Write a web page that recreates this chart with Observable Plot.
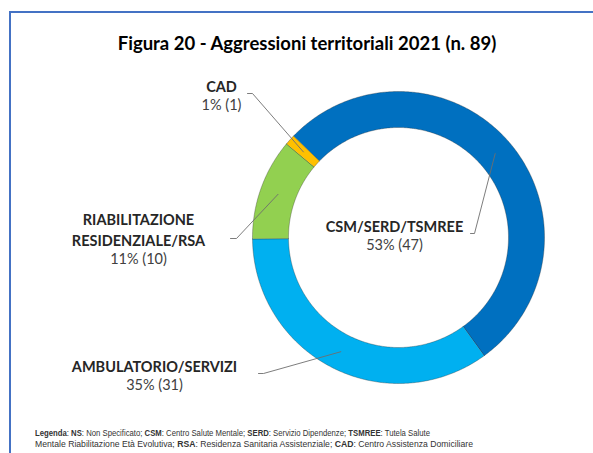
<!DOCTYPE html>
<html><head><meta charset="utf-8">
<script src="https://cdn.jsdelivr.net/npm/d3@7"></script>
<script src="https://cdn.jsdelivr.net/npm/@observablehq/plot@0.6"></script>
<style>
body{margin:0;background:#fff;width:593px;height:453px;overflow:hidden;position:relative;font-family:Lato,"Open Sans",sans-serif}
#frame{position:absolute;left:9px;top:11px;width:600px;height:460px;border-top:2px solid #4472C4;border-left:2px solid #4472C4}
#title{position:absolute;top:32px;left:0;width:614px;text-align:center;font-weight:bold;font-size:18.5px;color:#000}
#chart{position:absolute;top:60px;left:0}
#legend{position:absolute;left:35px;top:428px;font-family:"Liberation Sans",Arial,sans-serif;font-size:8.6px;color:#333;line-height:11px}
#legend div{white-space:nowrap;transform-origin:0 50%;width:max-content}
</style></head>
<body>
<div id="frame"></div>
<div id="title">Figura 20 - Aggressioni territoriali 2021 (n. 89)</div>
<div id="chart"></div>
<div id="legend">
<div id="l1"><b>Legenda</b>: <b>NS</b>: Non Specificato; <b>CSM</b>: Centro Salute Mentale; <b>SERD</b>: Servizio Dipendenze; <b>TSMREE</b>: Tutela Salute</div>
<div id="l2">Mentale Riabilitazione Età Evolutiva; <b>RSA</b>: Residenza Sanitaria Assistenziale; <b>CAD</b>: Centro Assistenza Domiciliare</div>
</div>
<script>
// ---- data ----
const categories = ["CSM/SERD/TSMREE", "AMBULATORIO/SERVIZI", "RIABILITAZIONE RESIDENZIALE/RSA", "CAD"];
const nameLines = ["CSM/SERD/TSMREE", "AMBULATORIO/SERVIZI", "RIABILITAZIONE\nRESIDENZIALE/RSA", "CAD"];
const counts = [47, 31, 10, 1];
const percents = ["53%", "35%", "11%", "1%"];
const colors = ["#0070C0", "#00B0F0", "#92D050", "#FFC000"];

// ---- layout (chart units, origin at donut centre, y up) ----
const outerR = 146, innerR = 110, leaderR = 128;
const startDeg = -46;
const labelPos = [[-4, 12], [-244, -128], [-260, 19], [-177, 152]]; // centre of first name line
const leaderStart = [[72, 4, 4], [-140, -136, 5], [-168, -1, 6], [-151, 144, 5]];
const nameGap = 21, valueGap = 19.5, fs = 14.5;

const pie = d3.pie().sort(null)
  .startAngle(startDeg * Math.PI / 180)
  .endAngle(startDeg * Math.PI / 180 + 2 * Math.PI)(counts);

const ring = [];
pie.forEach((p, i) => {
  const n = Math.max(4, Math.ceil((p.endAngle - p.startAngle) / 0.01));
  for (let k = 0; k <= n; k++) {
    const a = p.startAngle + (p.endAngle - p.startAngle) * k / n;
    ring.push({cat: categories[i], x: outerR * Math.sin(a), y: outerR * Math.cos(a)});
  }
  for (let k = n; k >= 0; k--) {
    const a = p.startAngle + (p.endAngle - p.startAngle) * k / n;
    ring.push({cat: categories[i], x: innerR * Math.sin(a), y: innerR * Math.cos(a)});
  }
});

const leaders = [];
pie.forEach((p, i) => {
  const mid = (p.startAngle + p.endAngle) / 2;
  const [sx, sy, dx] = leaderStart[i];
  leaders.push({cat: categories[i], x: sx, y: sy});
  leaders.push({cat: categories[i], x: sx + dx, y: sy});
  leaders.push({cat: categories[i], x: leaderR * Math.sin(mid), y: leaderR * Math.cos(mid)});
});

const names = categories.map((c, i) => {
  const n = nameLines[i].split("\n").length;
  return {text: nameLines[i], x: labelPos[i][0], y: labelPos[i][1] - (n - 1) * nameGap / 2};
});
const values = categories.map((c, i) => {
  const n = nameLines[i].split("\n").length;
  return {
    text: `${percents[i]} (${counts[i]})`,
    x: labelPos[i][0],
    y: labelPos[i][1] - (n - 1) * nameGap - valueGap
  };
});

const chart = Plot.plot({
  width: 593, height: 340, margin: 0,
  x: {domain: [-398, 195], axis: null},
  y: {domain: [-163, 177], axis: null},
  color: {domain: categories, range: colors},
  style: {background: "transparent"},
  marks: [
    Plot.line(ring, {x: "x", y: "y", z: "cat", fill: "cat", curve: "linear-closed",
      stroke: "#2b2b2b", strokeWidth: 0.6, strokeOpacity: 0.55}),
    Plot.line(leaders, {x: "x", y: "y", z: "cat", stroke: "#6e6e6e", strokeWidth: 0.9}),
    Plot.text(names, {x: "x", y: "y", text: "text", fontWeight: "bold", fontSize: fs,
      fontFamily: "Lato", fill: "#262626", lineHeight: nameGap / fs}),
    Plot.text(values, {x: "x", y: "y", text: "text", fontSize: fs,
      fontFamily: "Lato", fill: "#404040"})
  ]
});
document.getElementById("chart").appendChild(chart);

// fit legend lines to the reference widths
[["l1", 395], ["l2", 438]].forEach(([id, w]) => {
  const el = document.getElementById(id);
  const s = w / el.getBoundingClientRect().width;
  el.style.transform = `scaleX(${s})`;
});
</script>
</body></html>
